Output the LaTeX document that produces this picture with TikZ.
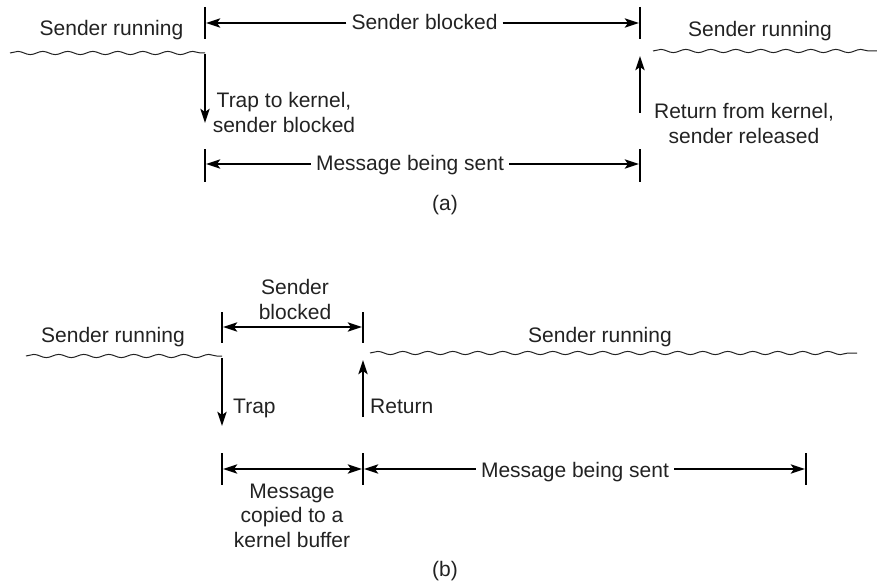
\documentclass[tikz,border=0pt]{standalone}
\usepackage{fontspec}
\setmainfont{Liberation Sans}
\usetikzlibrary{arrows.meta,decorations.pathmorphing}
\definecolor{ink}{HTML}{222222}
\begin{document}
\begin{tikzpicture}[x=1pt,y=-1pt,
  lbl/.style={font=\fontsize{21}{24.5}\selectfont, text=ink, inner xsep=5pt, inner ysep=0pt, align=center, anchor=base},
  tick/.style={line width=1.2pt, draw=black},
  arr/.style={line width=2.8pt, draw=black, -{Stealth[length=14pt,width=9pt,inset=3pt]}, shorten >=1pt},
  darr/.style={line width=2.8pt, draw=black, {Stealth[length=14pt,width=9pt,inset=3pt]}-{Stealth[length=14pt,width=9pt,inset=3pt]}, shorten >=1pt, shorten <=1pt},
  wave/.style={draw=ink, line width=1pt, decorate, decoration={snake, amplitude=1.6pt, segment length=25pt}}
]
\useasboundingbox (0,0) rectangle (877,583);

% ---------- (a) ----------
\coordinate (tA1t) at (205,7);   \coordinate (tA1b) at (205,39);
\coordinate (tA2t) at (640,7);   \coordinate (tA2b) at (640,39);
\coordinate (tA1m) at (205,23);  \coordinate (tA2m) at (640,23);
\coordinate (bA1t) at (205,149); \coordinate (bA1b) at (205,182);
\coordinate (bA2t) at (640,149); \coordinate (bA2b) at (640,182);
\coordinate (bA1m) at (205,164); \coordinate (bA2m) at (640,164);
\coordinate (wA1s) at (10,53);   \coordinate (wA1e) at (205,53);
\coordinate (wA2s) at (653,51);  \coordinate (wA2e) at (877,51);
\coordinate (dnA1) at (205,54);  \coordinate (dnA2) at (205,124);
\coordinate (upA1) at (640,113); \coordinate (upA2) at (640,55);

\node[lbl] (srA1) at (111.5,36) {Sender running};
\node[lbl] (srA2) at (760,37) {Sender running};
\node[lbl] (sbA) at (424.5,30) {Sender blocked};
\node[lbl] (trapA) at (284,132) {Trap to kernel,\\sender blocked};
\node[lbl] (retA) at (744,143) {Return from kernel,\\sender released};
\node[lbl] (msgA) at (410,170) {Message being sent};
\node[lbl] (capA) at (445,210) {(a)};

\draw[tick] (tA1t) -- (tA1b);
\draw[tick] (tA2t) -- (tA2b);
\draw[tick] (bA1t) -- (bA1b);
\draw[tick] (bA2t) -- (bA2b);
\draw[arr] (sbA.west |- tA1m) -- (tA1m);
\draw[arr] (sbA.east |- tA2m) -- (tA2m);
\draw[arr] (msgA.west |- bA1m) -- (bA1m);
\draw[arr] (msgA.east |- bA2m) -- (bA2m);
\draw[wave] (wA1s) -- (wA1e);
\draw[wave] (wA2s) -- (wA2e);
\draw[arr] (dnA1) -- (dnA2);
\draw[arr] (upA1) -- (upA2);

% ---------- (b) ----------
\coordinate (tB1t) at (222,312); \coordinate (tB1b) at (222,343);
\coordinate (tB2t) at (363,312); \coordinate (tB2b) at (363,343);
\coordinate (tB1m) at (222,327); \coordinate (tB2m) at (363,327);
\coordinate (bB1t) at (222,453); \coordinate (bB1b) at (222,485);
\coordinate (bB2t) at (363,453); \coordinate (bB2b) at (363,485);
\coordinate (bB3t) at (806,453); \coordinate (bB3b) at (806,485);
\coordinate (bB1m) at (222,469); \coordinate (bB2m) at (363,469);
\coordinate (bB3m) at (806,469);
\coordinate (wB1s) at (26,356);  \coordinate (wB1e) at (222,356);
\coordinate (wB2s) at (370,353); \coordinate (wB2e) at (857,353);
\coordinate (dnB1) at (222,358); \coordinate (dnB2) at (222,427);
\coordinate (upB1) at (363,417); \coordinate (upB2) at (363,359);

\node[lbl] (sbB) at (295,319) {Sender\\blocked};
\node[lbl] (srB1) at (113,342) {Sender running};
\node[lbl] (srB2) at (600,342) {Sender running};
\node[lbl, anchor=base west] (trapB) at (228,413) {Trap};
\node[lbl, anchor=base west] (retB) at (365,413) {Return};
\node[lbl] (msgB) at (575,477) {Message being sent};
\node[lbl] (cpyB) at (292,547) {Message\\copied to a\\kernel buffer};
\node[lbl] (capB) at (445,576) {(b)};

\draw[tick] (tB1t) -- (tB1b);
\draw[tick] (tB2t) -- (tB2b);
\draw[tick] (bB1t) -- (bB1b);
\draw[tick] (bB2t) -- (bB2b);
\draw[tick] (bB3t) -- (bB3b);
\draw[darr] (tB1m) -- (tB2m);
\draw[darr] (bB1m) -- (bB2m);
\draw[arr] (msgB.west |- bB2m) -- (bB2m);
\draw[arr] (msgB.east |- bB3m) -- (bB3m);
\draw[wave] (wB1s) -- (wB1e);
\draw[wave] (wB2s) -- (wB2e);
\draw[arr] (dnB1) -- (dnB2);
\draw[arr] (upB1) -- (upB2);
\end{tikzpicture}
\end{document}
